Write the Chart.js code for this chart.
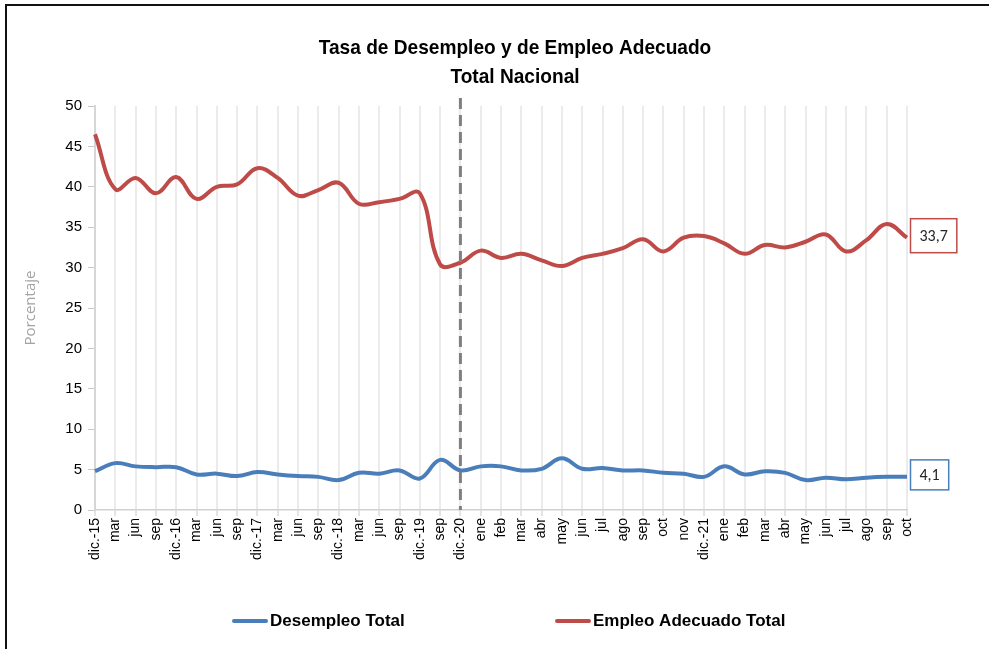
<!DOCTYPE html>
<html>
<head>
<meta charset="utf-8">
<script src="https://cdn.jsdelivr.net/npm/chart.js@4/dist/chart.umd.min.js"></script>
<style>
  html, body { margin: 0; padding: 0; background: #fff; }
  #frame { position: absolute; left: 5px; top: 4px; width: 984px; height: 645px;
           border-top: 2px solid #111; border-left: 2px solid #111; }
  #c { position: absolute; left: 0; top: 0; }
</style>
</head>
<body>
<div id="frame"></div>
<canvas id="c" width="989" height="649"></canvas>
<script>
var labels = ['dic.-15','mar','jun','sep','dic.-16','mar','jun','sep','dic.-17','mar','jun','sep',
  'dic.-18','mar','jun','sep','dic.-19','sep','dic.-20','ene','feb','mar','abr','may','jun','jul',
  'ago','sep','oct','nov','dic.-21','ene','feb','mar','abr','may','jun','jul','ago','sep','oct'];

var desempleo = [4.8,5.8,5.4,5.3,5.3,4.4,4.5,4.2,4.7,4.4,
  4.2,4.1,3.7,4.6,4.5,4.9,3.9,6.2,4.9,5.4,
  5.4,4.9,5.1,6.4,5.1,5.2,4.9,4.9,4.6,4.5,
  4.1,5.4,4.4,4.8,4.6,3.7,4.0,3.8,4.0,4.1,4.1];

var empleo = [46.5,39.7,41.1,39.2,41.2,38.5,40.0,40.3,42.3,41.1,
  38.9,39.6,40.5,37.9,38.1,38.5,39.2,30.4,30.6,32.1,
  31.2,31.7,30.9,30.2,31.2,31.7,32.4,33.5,32.0,33.7,
  33.9,33.0,31.7,32.8,32.5,33.2,34.1,32.0,33.4,35.4,33.7];

var yTicks = [0, 50, 5];   // min, max, step
var markIndex = 18;        // dic.-20
var endLabels = ['4,1', '33,7'];

var SANS = '"Liberation Sans", Arial, sans-serif';

// draws text squeezed horizontally (the original uses a narrow face)
function narrowText(ctx, txt, x, y, sx) {
  ctx.save();
  ctx.translate(x, y);
  ctx.scale(sx, 1);
  ctx.fillText(txt, 0, 0);
  ctx.restore();
}

var decor = {
  id: 'decor',
  afterDatasetsDraw: function(chart) {
    var ctx = chart.ctx, x = chart.scales.x, area = chart.chartArea;
    // vertical dashed marker
    var mx = x.getPixelForValue(markIndex);
    ctx.save();
    ctx.strokeStyle = '#7f7f7f';
    ctx.lineWidth = 3;
    ctx.setLineDash([11, 6]);
    ctx.beginPath();
    ctx.moveTo(mx, area.top - 8);
    ctx.lineTo(mx, area.bottom);
    ctx.stroke();
    ctx.restore();

    // boxes with last values
    chart.data.datasets.forEach(function(ds, i) {
      var meta = chart.getDatasetMeta(i);
      var pt = meta.data[meta.data.length - 1];
      var txt = endLabels[i];
      ctx.save();
      ctx.font = '16px Carlito, Calibri, ' + SANS;
      var w = ctx.measureText(txt).width + 18;
      var h = i === 1 ? 34 : 30;
      var bx = pt.x + 3.5, by = pt.y - h / 2 - 2;
      ctx.fillStyle = '#fff';
      ctx.fillRect(bx, by, w, h);
      ctx.strokeStyle = ds.borderColor;
      ctx.lineWidth = 1.5;
      ctx.strokeRect(bx, by, w, h);
      ctx.fillStyle = '#262626';
      ctx.textAlign = 'center';
      ctx.textBaseline = 'middle';
      ctx.fillText(txt, bx + w / 2, by + h / 2 + 1);
      ctx.restore();
    });
  },
  afterDraw: function(chart) {
    var ctx = chart.ctx, area = chart.chartArea;
    ctx.save();
    // title
    ctx.fillStyle = '#000';
    ctx.textAlign = 'center';
    ctx.textBaseline = 'middle';
    ctx.font = 'bold 21px ' + SANS;
    narrowText(ctx, 'Tasa de Desempleo y de Empleo Adecuado', 515, 48, 0.91);
    narrowText(ctx, 'Total Nacional', 515, 77, 0.91);

    // y axis title
    ctx.save();
    ctx.translate(31, (area.top + area.bottom) / 2);
    ctx.rotate(-Math.PI / 2);
    ctx.font = '15px "Open Sans", ' + SANS;
    ctx.fillStyle = '#a3a3a3';
    ctx.fillText('Porcentaje', 0, 0);
    ctx.restore();

    // legend
    var items = chart.data.datasets;
    ctx.font = 'bold 17px ' + SANS;
    ctx.textAlign = 'left';
    var starts = [232, 555];
    items.forEach(function(ds, i) {
      var lx = starts[i], ly = 621;
      ctx.strokeStyle = ds.borderColor;
      ctx.lineWidth = 4;
      ctx.lineCap = 'round';
      ctx.beginPath();
      ctx.moveTo(lx + 2, ly);
      ctx.lineTo(lx + 34, ly);
      ctx.stroke();
      ctx.fillStyle = '#000';
      ctx.fillText(ds.label, lx + 38, ly);
    });
    ctx.restore();
  }
};

new Chart(document.getElementById('c'), {
  type: 'line',
  data: {
    labels: labels,
    datasets: [{
      label: 'Desempleo Total',
      data: desempleo,
      borderColor: '#4a7ebb',
      borderWidth: 4,
      pointRadius: 0,
      tension: 0.4,
      fill: false
    }, {
      label: 'Empleo Adecuado Total',
      data: empleo,
      borderColor: '#be4b48',
      borderWidth: 4,
      pointRadius: 0,
      tension: 0.4,
      fill: false
    }]
  },
  options: {
    responsive: false,
    animation: false,
    layout: { padding: { left: 50, right: 82, top: 106, bottom: 79 } },
    plugins: {
      legend: { display: false },
      title: { display: false },
      tooltip: { enabled: false }
    },
    scales: {
      x: {
        grid: { color: '#ebebeb', lineWidth: 2, tickLength: 6, tickColor: '#c8c8c8', tickWidth: 1 },
        border: { color: '#d0d0d0', width: 1.5 },
        ticks: {
          autoSkip: false, maxRotation: 90, minRotation: 90, padding: 2,
          color: '#000', font: { family: SANS, size: 14 }
        },
        afterFit: function(s) { s.height = 60; }
      },
      y: {
        min: yTicks[0], max: yTicks[1],
        grid: { drawOnChartArea: false, tickLength: 7, tickColor: '#c8c8c8' },
        border: { color: '#d6d6d6', width: 2 },
        ticks: {
          stepSize: yTicks[2], padding: 6, color: '#000',
          font: { family: SANS, size: 15 }
        },
        afterFit: function(s) { s.width = 45; }
      }
    }
  },
  plugins: [decor]
});
</script>
</body>
</html>
